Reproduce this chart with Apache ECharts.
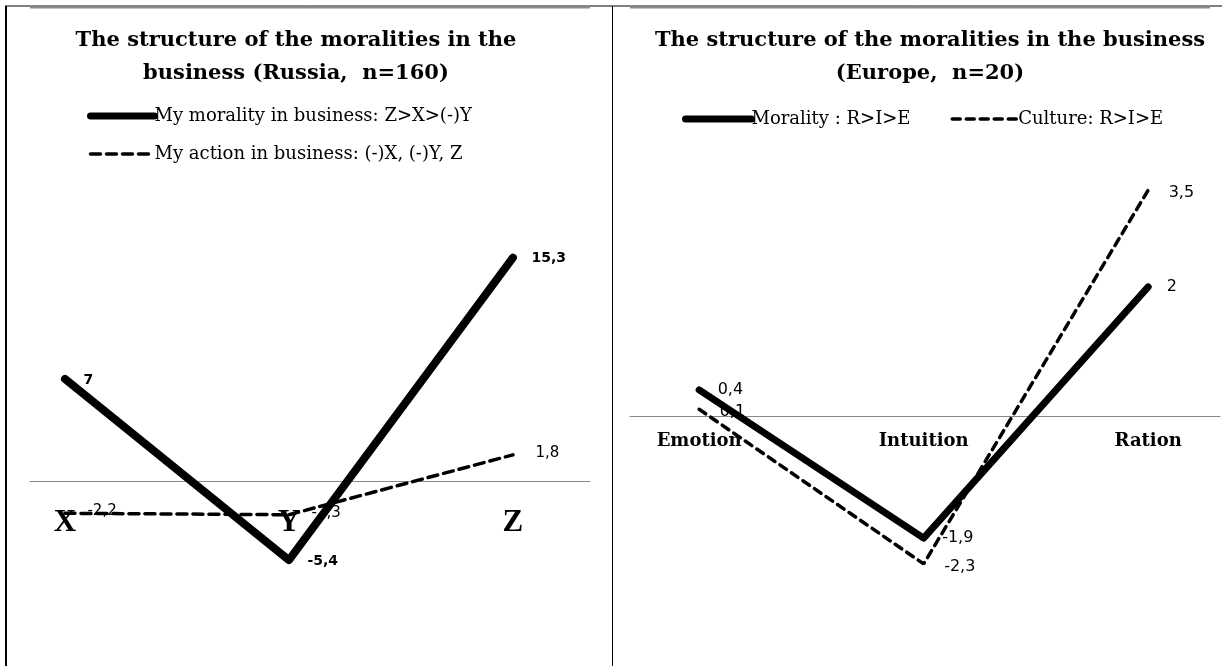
<!DOCTYPE html>
<html>
<head>
<meta charset="utf-8">
<script src="https://cdn.jsdelivr.net/npm/echarts@6/dist/echarts.min.js"></script>
<style>
  html, body { margin: 0; padding: 0; background: #fff; }
  #main { width: 1225px; height: 666px; }
</style>
</head>
<body>
<div id="main"></div>
<script>
  // left panel: Russia
  var ruCats = ['X', 'Y', 'Z'];
  var ruMorality = [7, -5.4, 15.3];
  var ruAction = [-2.2, -2.3, 1.8];
  var ruNames = ['My morality in business: Z>X>(-)Y', 'My action in business: (-)X, (-)Y, Z'];

  // right panel: Europe
  var euCats = ['Emotion', 'Intuition', 'Ration'];
  var euMorality = [0.4, -1.9, 2];
  var euCulture = [0.1, -2.3, 3.5];
  var euNames = ['Morality : R>I>E', 'Culture: R>I>E'];

  var serif = 'DejaVu Serif';
  var sans = 'DejaVu Sans';

  // y ranges of the two grids, zero line is moved up with the axis offset
  var ruMin = -8, ruMax = 20, ruTop = 189, ruH = 409;
  var euMin = -3, euMax = 4, euTop = 158, euH = 451;

  function pts(arr) {
    return arr.map(function (v, i) { return [i, v]; });
  }
  function comma(p) {
    return String(p.value[1]).replace('.', ',');
  }
  // pixels from grid bottom up to value 0
  function zeroOffset(min, max, h) {
    return -Math.round(h * (0 - min) / (max - min));
  }

  var myChart = echarts.init(document.getElementById('main'));

  myChart.setOption({
    animation: false,
    title: [
      {
        text: 'The structure of the moralities in the\nbusiness (Russia,  n=160)',
        left: 291, top: 19, textAlign: 'center',
        textStyle: { fontFamily: serif, fontWeight: 'bold', fontSize: 21, lineHeight: 33, color: '#000' }
      },
      {
        text: 'The structure of the moralities in the business\n(Europe,  n=20)',
        left: 925, top: 19, textAlign: 'center',
        textStyle: { fontFamily: serif, fontWeight: 'bold', fontSize: 21, lineHeight: 33, color: '#000' }
      }
    ],
    legend: [
      {
        data: [
          { name: ruNames[0], lineStyle: { width: 7 } },
          { name: ruNames[1], lineStyle: { width: 3.5 } }
        ],
        orient: 'vertical', left: 82, top: 102,
        itemWidth: 64, itemHeight: 14, itemGap: 20,
        itemStyle: { opacity: 0 },
        textStyle: { fontFamily: serif, fontSize: 18, color: '#000', padding: [0, 0, 0, -5] }
      },
      {
        data: [
          { name: euNames[0], lineStyle: { width: 7 } },
          { name: euNames[1], lineStyle: { width: 3.5 } }
        ],
        orient: 'horizontal', left: 677, top: 105,
        itemWidth: 66, itemHeight: 14, itemGap: 40,
        itemStyle: { opacity: 0 },
        textStyle: { fontFamily: serif, fontSize: 18, color: '#000', padding: [0, 0, 0, -5] }
      }
    ],
    grid: [
      { left: 30, width: 560, top: ruTop, height: ruH },
      { left: 630, width: 590, top: euTop, height: euH }
    ],
    xAxis: [
      {
        type: 'value', gridIndex: 0, min: -0.156, max: 2.344,
        offset: zeroOffset(ruMin, ruMax, ruH),
        axisLine: { onZero: false, lineStyle: { color: '#888', width: 1 } },
        axisTick: { show: false }, splitLine: { show: false },
        axisLabel: {
          customValues: [0, 1, 2], margin: 26,
          formatter: function (v) { return ruCats[Math.round(v)]; },
          fontFamily: 'Liberation Serif', fontWeight: 'bold', fontSize: 31, color: '#000'
        }
      },
      {
        type: 'value', gridIndex: 1, min: -0.308, max: 2.32,
        offset: zeroOffset(euMin, euMax, euH),
        axisLine: { onZero: false, lineStyle: { color: '#888', width: 1 } },
        axisTick: { show: false }, splitLine: { show: false },
        axisLabel: {
          customValues: [0, 1, 2], margin: 16,
          formatter: function (v) { return euCats[Math.round(v)]; },
          fontFamily: serif, fontWeight: 'bold', fontSize: 18, color: '#000'
        }
      }
    ],
    yAxis: [
      { type: 'value', gridIndex: 0, min: ruMin, max: ruMax, show: false },
      { type: 'value', gridIndex: 1, min: euMin, max: euMax, show: false }
    ],
    series: [
      {
        name: ruNames[0], type: 'line', xAxisIndex: 0, yAxisIndex: 0,
        data: pts(ruMorality), symbol: 'circle', symbolSize: 1, z: 4,
        itemStyle: { color: '#000' },
        lineStyle: { color: '#000', width: 8, cap: 'round', join: 'round' },
        label: {
          show: true, position: 'right', distance: 18, offset: [0, 1], formatter: comma,
          fontFamily: sans, fontWeight: 'bold', fontSize: 14, color: '#000'
        }
      },
      {
        name: ruNames[1], type: 'line', xAxisIndex: 0, yAxisIndex: 0,
        data: pts(ruAction), symbol: 'circle', symbolSize: 1, z: 3,
        itemStyle: { color: '#000' },
        lineStyle: { color: '#000', width: 3.5, type: [10, 6], cap: 'round' },
        label: {
          show: true, position: 'right', distance: 22, offset: [0, -2], formatter: comma,
          fontFamily: sans, fontSize: 15, color: '#000'
        }
      },
      {
        name: euNames[0], type: 'line', xAxisIndex: 1, yAxisIndex: 1,
        data: pts(euMorality), symbol: 'circle', symbolSize: 1, z: 4,
        itemStyle: { color: '#000' },
        lineStyle: { color: '#000', width: 7, cap: 'round', join: 'round' },
        label: {
          show: true, position: 'right', distance: 18, offset: [0, 0], formatter: comma,
          fontFamily: sans, fontSize: 16, color: '#000'
        }
      },
      {
        name: euNames[1], type: 'line', xAxisIndex: 1, yAxisIndex: 1,
        data: pts(euCulture), symbol: 'circle', symbolSize: 1, z: 3,
        itemStyle: { color: '#000' },
        lineStyle: { color: '#000', width: 3.5, type: [8, 6], cap: 'round' },
        label: {
          show: true, position: 'right', distance: 20, offset: [0, 3], formatter: comma,
          fontFamily: sans, fontSize: 16, color: '#000'
        }
      }
    ],
    graphic: [
      { type: 'line', shape: { x1: 5, y1: 6, x2: 1222, y2: 6 }, style: { stroke: '#000', lineWidth: 1 } },
      { type: 'line', shape: { x1: 30, y1: 7, x2: 590, y2: 7 }, style: { stroke: '#888', lineWidth: 3 } },
      { type: 'line', shape: { x1: 630, y1: 7, x2: 1210, y2: 7 }, style: { stroke: '#888', lineWidth: 3 } },
      { type: 'line', shape: { x1: 6, y1: 6, x2: 6, y2: 666 }, style: { stroke: '#000', lineWidth: 2 } },
      { type: 'line', shape: { x1: 612.5, y1: 6, x2: 612.5, y2: 666 }, style: { stroke: '#000', lineWidth: 1 } }
    ]
  });
</script>
</body>
</html>
